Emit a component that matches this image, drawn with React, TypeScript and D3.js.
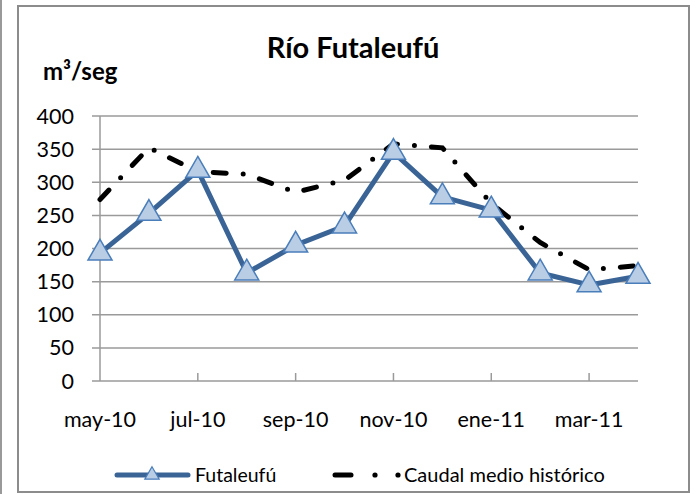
import { useEffect, useRef } from 'react';
import * as d3 from 'd3';

const months = ['may-10', 'jun-10', 'jul-10', 'ago-10', 'sep-10', 'oct-10', 'nov-10', 'dic-10', 'ene-11', 'feb-11', 'mar-11', 'abr-11'];
const futaleufu = [193, 253, 318, 163, 205, 234, 345, 278, 258, 163, 145, 158];
const historico = [274, 352, 316, 312, 285, 303, 358, 352, 268, 209, 168, 174];
const yTicks = [0, 50, 100, 150, 200, 250, 300, 350, 400];

const FONT = 'Lato, "Open Sans", sans-serif';

export default function App() {
  const svgRef = useRef<SVGSVGElement>(null);

  useEffect(() => {
    document.body.style.margin = '0';
    const svg = d3.select(svgRef.current);
    svg.selectAll('*').remove();

    // frames
    svg.append('line')
      .attr('x1', 1).attr('x2', 1).attr('y1', 0).attr('y2', 494)
      .attr('stroke', '#999').attr('stroke-width', 2);
    svg.append('rect')
      .attr('x', 18).attr('y', 6).attr('width', 671).attr('height', 486)
      .attr('fill', '#fff').attr('stroke', '#8c8c8c').attr('stroke-width', 2);

    const x = d3.scalePoint<string>().domain(months).range([100, 638]);
    const y = d3.scaleLinear().domain([0, 400]).range([381, 116]);

    // gridlines
    svg.selectAll('.grid')
      .data(yTicks)
      .join('line')
      .attr('class', 'grid')
      .attr('x1', 92).attr('x2', 638)
      .attr('y1', d => y(d)).attr('y2', d => y(d))
      .attr('stroke', '#9a9a9a').attr('stroke-width', 1.5);

    // y axis line
    svg.append('line')
      .attr('x1', 100).attr('x2', 100).attr('y1', y(400)).attr('y2', y(0))
      .attr('stroke', '#9a9a9a').attr('stroke-width', 1.5);

    // x ticks (every other month)
    const labelled = months.filter((_, i) => i % 2 === 0);
    svg.selectAll('.xtick')
      .data(labelled.slice(1))
      .join('line')
      .attr('class', 'xtick')
      .attr('x1', d => x(d)!).attr('x2', d => x(d)!)
      .attr('y1', y(0) - 8).attr('y2', y(0))
      .attr('stroke', '#9a9a9a').attr('stroke-width', 1.5);

    // y labels
    svg.selectAll('.ylab')
      .data(yTicks)
      .join('text')
      .attr('class', 'ylab')
      .attr('x', 74).attr('y', d => y(d) + 7.5)
      .attr('text-anchor', 'end')
      .attr('font-family', FONT).attr('font-size', 21.5).attr('fill', '#000')
      .text(d => d);

    // x labels
    svg.selectAll('.xlab')
      .data(labelled)
      .join('text')
      .attr('class', 'xlab')
      .attr('x', d => x(d)!).attr('y', 427)
      .attr('text-anchor', 'middle')
      .attr('font-family', FONT).attr('font-size', 21.5).attr('fill', '#000')
      .text(d => d);

    // title
    svg.append('text')
      .attr('x', 353).attr('y', 58)
      .attr('text-anchor', 'middle')
      .attr('font-family', FONT).attr('font-size', 29).attr('font-weight', 'bold')
      .text('Río Futaleufú');
    svg.append('text')
      .attr('x', 43).attr('y', 80)
      .attr('font-family', FONT).attr('font-size', 24).attr('font-weight', 'bold')
      .text('m³/seg');

    const line = d3.line<number>()
      .x((_, i) => x(months[i])!)
      .y(d => y(d));

    // historic mean, dash-dot
    svg.append('path')
      .datum(historico)
      .attr('d', line)
      .attr('fill', 'none')
      .attr('stroke', '#000')
      .attr('stroke-width', 5)
      .attr('stroke-linecap', 'round')
      .attr('stroke-dasharray', '13 17 0 17');

    // Futaleufú
    svg.append('path')
      .datum(futaleufu)
      .attr('d', line)
      .attr('fill', 'none')
      .attr('stroke', '#3a6496')
      .attr('stroke-width', 5)
      .attr('stroke-linejoin', 'round');

    const tri = d3.symbol().type(d3.symbolTriangle).size(250);
    svg.selectAll('.mark')
      .data(futaleufu)
      .join('path')
      .attr('class', 'mark')
      .attr('d', tri)
      .attr('transform', (d, i) => `translate(${x(months[i])},${y(d)})`)
      .attr('fill', '#b9cde5')
      .attr('stroke', '#4a7ebb')
      .attr('stroke-width', 1.5);

    // legend
    const ly = 475;
    svg.append('line')
      .attr('x1', 117).attr('x2', 188).attr('y1', ly).attr('y2', ly)
      .attr('stroke', '#3a6496').attr('stroke-width', 5).attr('stroke-linecap', 'round');
    svg.append('path')
      .attr('d', d3.symbol().type(d3.symbolTriangle).size(90))
      .attr('transform', `translate(152,${ly})`)
      .attr('fill', '#b9cde5').attr('stroke', '#4a7ebb').attr('stroke-width', 1.2);
    svg.append('text')
      .attr('x', 195).attr('y', ly + 6.5)
      .attr('font-family', FONT).attr('font-size', 19.5)
      .text('Futaleufú');

    svg.append('line')
      .attr('x1', 335).attr('x2', 351).attr('y1', ly).attr('y2', ly)
      .attr('stroke', '#000').attr('stroke-width', 5).attr('stroke-linecap', 'round');
    svg.selectAll('.ldot')
      .data([375, 398])
      .join('circle')
      .attr('class', 'ldot')
      .attr('cx', d => d).attr('cy', ly).attr('r', 2.6)
      .attr('fill', '#000');
    svg.append('text')
      .attr('x', 404).attr('y', ly + 6.5)
      .attr('font-family', FONT).attr('font-size', 20)
      .text('Caudal medio histórico');
  }, []);

  return (
    <svg ref={svgRef} width={697} height={494} style={{ display: 'block' }} />
  );
}
